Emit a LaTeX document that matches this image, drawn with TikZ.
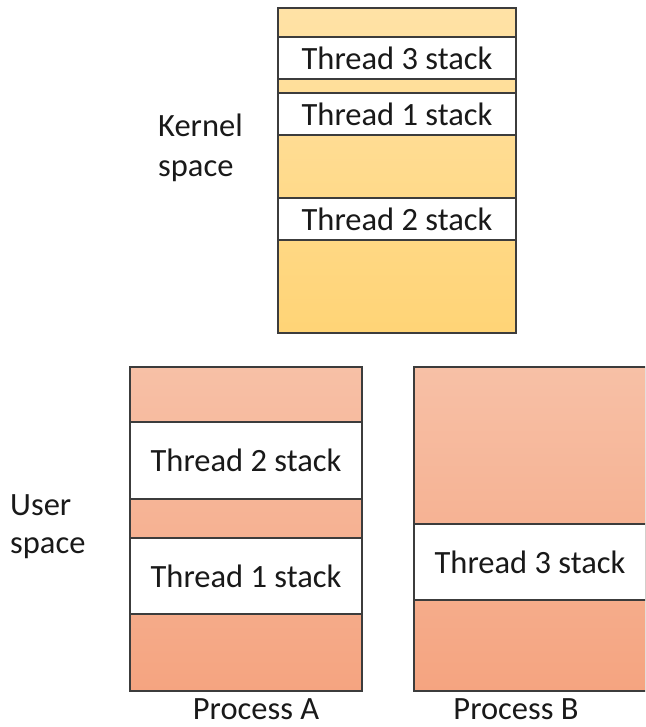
\documentclass[tikz,border=0pt]{standalone}
\usepackage{fontspec}
\setmainfont{Carlito}
\definecolor{kerntop}{RGB}{255,226,166}
\definecolor{kernbot}{RGB}{255,212,118}
\definecolor{proctop}{RGB}{247,192,166}
\definecolor{procbot}{RGB}{245,164,128}
\definecolor{edge}{RGB}{60,60,60}
\definecolor{ink}{RGB}{25,25,25}
\tikzset{
  region/.style={draw=edge, line width=2pt, rectangle, anchor=north west, inner sep=0pt},
  kernelbox/.style={region, top color=kerntop, bottom color=kernbot, minimum width=238pt},
  procbox/.style={region, top color=proctop, bottom color=procbot, minimum width=232pt},
  stackbox/.style={region, fill=white, text=ink, font=\fontsize{32.5}{38}\selectfont},
  caption/.style={text=ink, font=\fontsize{32.5}{39}\selectfont, inner sep=0pt, text depth=0pt}
}
\begin{document}
\begin{tikzpicture}[x=1pt, y=-1pt]
  \useasboundingbox (0,0) rectangle (645,727);
  \clip (0,0) rectangle (645,727);

  % kernel address space
  \node[kernelbox, minimum height=325pt] (kern) at (277,7) {};
  \node[stackbox, minimum width=238pt, minimum height=42pt] (k3) at (277,36) {Thread 3 stack};
  \node[stackbox, minimum width=238pt, minimum height=42pt] (k1) at (277,92) {Thread 1 stack};
  \node[stackbox, minimum width=238pt, minimum height=42pt] (k2) at (277,197) {Thread 2 stack};
  \node[caption, anchor=base west] (klabel1) at (158,137) {Kernel};
  \node[caption, anchor=base west] (klabel2) at (158,177) {space};

  % user address spaces
  \node[procbox, minimum height=324pt] (procA) at (129,366) {};
  \node[stackbox, minimum width=232pt, minimum height=77pt] (a2) at (129,421) {Thread 2 stack};
  \node[stackbox, minimum width=232pt, minimum height=76pt] (a1) at (129,537) {Thread 1 stack};

  \node[procbox, minimum height=324pt] (procB) at (413,366) {};
  \node[stackbox, minimum width=232pt, minimum height=76pt] (b3) at (413,523) {Thread 3 stack};

  \node[caption, anchor=base west] (ulabel1) at (10,515) {User};
  \node[caption, anchor=base west] (ulabel2) at (10,553) {space};
  \node[caption, anchor=base] (capA) at (256,719) {Process A};
  \node[caption, anchor=base] (capB) at (516,719) {Process B};
\end{tikzpicture}
\end{document}
